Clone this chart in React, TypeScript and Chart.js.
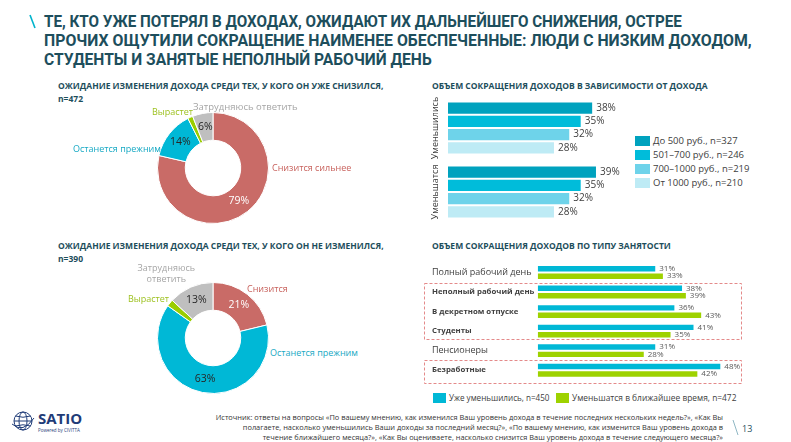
import React, { useEffect, useLayoutEffect, useRef } from "react";
import { Chart, registerables } from "chart.js";

Chart.register(...registerables);

// ---------- DATA ----------
const titleLines = [
  "ТЕ, КТО УЖЕ ПОТЕРЯЛ В ДОХОДАХ, ОЖИДАЮТ ИХ ДАЛЬНЕЙШЕГО СНИЖЕНИЯ, ОСТРЕЕ",
  "ПРОЧИХ ОЩУТИЛИ СОКРАЩЕНИЕ НАИМЕНЕЕ ОБЕСПЕЧЕННЫЕ: ЛЮДИ С НИЗКИМ ДОХОДОМ,",
  "СТУДЕНТЫ И ЗАНЯТЫЕ НЕПОЛНЫЙ РАБОЧИЙ ДЕНЬ",
];
const titleLineWidths = [638, 708, 388];

const donut1Title = "ОЖИДАНИЕ ИЗМЕНЕНИЯ ДОХОДА СРЕДИ ТЕХ, У КОГО ОН УЖЕ СНИЗИЛСЯ,";
const donut1N = "n=472";
const donut1Labels = ["Снизится сильнее", "Останется прежним", "Вырастет", "Затрудняюсь ответить"];
const donut1Values = [79, 14, 1.5, 6];

const donut2Title = "ОЖИДАНИЕ ИЗМЕНЕНИЯ ДОХОДА СРЕДИ ТЕХ, У КОГО ОН НЕ ИЗМЕНИЛСЯ,";
const donut2N = "n=390";
const donut2Labels = ["Снизится", "Останется прежним", "Вырастет", "Затрудняюсь ответить"];
const donut2Values = [21, 63, 2, 13];

const donutColors = ["#C96B67", "#00B8D6", "#9ACD00", "#BFBFBF"];
const donutTextColors = ["#C8625D", "#17A9C4", "#9DC11F", "#A6A6A6"];
const donutPctColors = ["#FFFFFF", "#262626", "#262626", "#262626"];

const incomeTitle = "ОБЪЕМ СОКРАЩЕНИЯ ДОХОДОВ В ЗАВИСИМОСТИ ОТ ДОХОДА";
const incomeCategories = ["Уменьшились", "Уменьшатся"];
const incomeSeries = ["До 500 руб., n=327", "501–700 руб., n=246", "700–1000 руб., n=219", "От 1000 руб., n=210"];
const incomeUnder500 = [38, 39];
const income501to700 = [35, 35];
const income700to1000 = [32, 32];
const incomeOver1000 = [28, 28];
const incomeColors = ["#00A2BE", "#00BCDA", "#6ED3EA", "#BEEBF5"];

const jobTitle = "ОБЪЕМ СОКРАЩЕНИЯ ДОХОДОВ ПО ТИПУ ЗАНЯТОСТИ";
const jobCategories = [
  "Полный рабочий день",
  "Неполный рабочий день",
  "В декретном отпуске",
  "Студенты",
  "Пенсионеры",
  "Безработные",
];
const jobBold = [false, true, true, true, false, true];
const jobAlready = [31, 38, 36, 41, 31, 48];
const jobExpected = [33, 39, 43, 35, 28, 42];
const jobSeries = ["Уже уменьшились, n=450", "Уменьшатся в ближайшее время, n=472"];
const jobColors = ["#00B8D6", "#9ED200"];

const sourceLines = [
  "Источник: ответы на вопросы «По вашему мнению, как изменился Ваш уровень дохода в течение последних нескольких недель?», «Как Вы",
  "полагаете, насколько уменьшились Ваши доходы за последний месяц?», «По вашему мнению, как изменится Ваш уровень дохода в",
  "течение ближайшего месяца?», «Как Вы оцениваете, насколько снизится Ваш уровень дохода в течение следующего месяца?»",
];
const pageNumber = "13";

// ---------- STYLE ----------
const FONT = "'Open Sans', 'Noto Sans', sans-serif";
const TITLE_FONT = "Roboto, 'Open Sans', sans-serif";
const DARK = "#1D4E5C";
const TEXT = "#404040";

function makeDonut(canvas: HTMLCanvasElement, labels: string[], values: number[]) {
  return new Chart(canvas, {
    type: "doughnut",
    data: {
      labels,
      datasets: [
        {
          data: values,
          backgroundColor: donutColors,
          borderColor: "#ffffff",
          borderWidth: 1,
        },
      ],
    },
    options: {
      responsive: false,
      animation: false,
      cutout: "50%",
      layout: { padding: 0 },
      plugins: { legend: { display: false }, tooltip: { enabled: false } },
    },
    plugins: [
      {
        id: "pctLabels",
        afterDatasetsDraw(chart: any) {
          const ctx = chart.ctx;
          const meta = chart.getDatasetMeta(0);
          ctx.save();
          ctx.font = `10.5px ${FONT}`;
          ctx.textAlign = "center";
          ctx.textBaseline = "middle";
          meta.data.forEach((arc: any, i: number) => {
            if (values[i] < 3) return;
            const p = arc.tooltipPosition(false);
            ctx.fillStyle = donutPctColors[i];
            ctx.fillText(`${values[i]}%`, p.x, p.y);
          });
          ctx.restore();
        },
      },
    ],
  } as any);
}

function makeIncome(canvas: HTMLCanvasElement) {
  const series = [incomeUnder500, income501to700, income700to1000, incomeOver1000];
  return new Chart(canvas, {
    type: "bar",
    data: {
      labels: incomeCategories,
      datasets: series.map((d, i) => ({
        label: incomeSeries[i],
        data: d,
        backgroundColor: incomeColors[i],
        borderColor: "#ffffff",
        borderWidth: 1,
        borderSkipped: "start",
        barPercentage: 1,
        categoryPercentage: 0.83,
      })),
    },
    options: {
      indexAxis: "y",
      responsive: false,
      animation: false,
      layout: { padding: { left: 28, right: 0, top: 0, bottom: 0 } },
      scales: {
        x: { display: false, min: 0, max: 182 / 3.82 },
        y: { display: false },
      },
      plugins: { legend: { display: false }, tooltip: { enabled: false } },
    },
    plugins: [
      {
        id: "incomeLabels",
        afterDatasetsDraw(chart: any) {
          const ctx = chart.ctx;
          ctx.save();
          ctx.fillStyle = TEXT;
          ctx.font = `10px ${FONT}`;
          ctx.textBaseline = "middle";
          ctx.textAlign = "left";
          chart.data.datasets.forEach((ds: any, di: number) => {
            const meta = chart.getDatasetMeta(di);
            meta.data.forEach((bar: any, i: number) => {
              ctx.fillText(`${ds.data[i]}%`, bar.x + 3, bar.y);
            });
          });
          const ys = chart.scales.y;
          ctx.textAlign = "center";
          ctx.font = `9px ${FONT}`;
          incomeCategories.forEach((c, i) => {
            const y = ys.getPixelForValue(i);
            ctx.save();
            ctx.translate(15, y);
            ctx.rotate(-Math.PI / 2);
            ctx.fillText(c, 0, 0);
            ctx.restore();
          });
          ctx.restore();
        },
      },
    ],
  } as any);
}

function makeJobs(canvas: HTMLCanvasElement) {
  const series = [jobAlready, jobExpected];
  return new Chart(canvas, {
    type: "bar",
    data: {
      labels: jobCategories,
      datasets: series.map((d, i) => ({
        label: jobSeries[i],
        data: d,
        backgroundColor: jobColors[i],
        borderColor: "#ffffff",
        borderWidth: 1,
        borderSkipped: "start",
        barPercentage: 1,
        categoryPercentage: 0.76,
      })),
    },
    options: {
      indexAxis: "y",
      responsive: false,
      animation: false,
      layout: { padding: { left: 12, right: 0, top: 0, bottom: 6 } },
      scales: {
        x: { display: false, min: 0, max: 212 / 3.82 },
        y: {
          position: "left",
          grid: { display: false },
          border: { display: false },
          ticks: {
            crossAlign: "far",
            padding: 0,
            color: TEXT,
            font: (c: any) =>
              jobBold[c.index]
                ? { family: FONT, size: 7.8, weight: "bold" }
                : { family: FONT, size: 9, weight: "normal" },
          },
          afterFit: (s: any) => {
            s.width = 105.6;
          },
        },
      },
      plugins: { legend: { display: false }, tooltip: { enabled: false } },
    },
    plugins: [
      {
        id: "boxes",
        beforeDatasetsDraw(chart: any) {
          const ctx = chart.ctx;
          const ys = chart.scales.y;
          ctx.save();
          ctx.strokeStyle = "#E48A8A";
          ctx.lineWidth = 1;
          ctx.setLineDash([3, 2]);
          const r1t = ys.getPixelForValue(1) - 9;
          const r1b = ys.getPixelForValue(3) + 8;
          const r2t = ys.getPixelForValue(5) - 10.5;
          const r2b = ys.getPixelForValue(5) + 12.5;
          ctx.strokeRect(4.5, Math.round(r1t) + 0.5, 317, Math.round(r1b - r1t));
          ctx.strokeRect(4.5, Math.round(r2t) + 0.5, 317, Math.round(r2b - r2t));
          ctx.restore();
        },
      },
      {
        id: "jobLabels",
        afterDatasetsDraw(chart: any) {
          const ctx = chart.ctx;
          ctx.save();
          ctx.fillStyle = "#595959";
          ctx.font = `8px ${FONT}`;
          ctx.textBaseline = "middle";
          ctx.textAlign = "left";
          chart.data.datasets.forEach((ds: any, di: number) => {
            const meta = chart.getDatasetMeta(di);
            meta.data.forEach((bar: any, i: number) => {
              ctx.fillText(`${ds.data[i]}%`, bar.x + 3, bar.y);
            });
          });
          ctx.restore();
        },
      },
    ],
  } as any);
}

const abs = (x: number, y: number, extra: React.CSSProperties = {}): React.CSSProperties => ({
  position: "absolute",
  left: x,
  top: y,
  transform: "translateY(-50%)",
  whiteSpace: "nowrap",
  lineHeight: 1,
  fontFamily: FONT,
  ...extra,
});

function FitText({ x, y, width, style, children }: { x: number; y: number; width: number; style: React.CSSProperties; children: any }) {
  const ref = useRef<HTMLDivElement>(null);
  useLayoutEffect(() => {
    const el = ref.current;
    if (!el) return;
    const w = el.offsetWidth;
    if (w > 0) el.style.transform = `translateY(-50%) scaleX(${width / w})`;
  }, [width]);
  return (
    <div ref={ref} style={{ ...abs(x, y, style), display: "inline-block", transformOrigin: "left center" }}>
      {children}
    </div>
  );
}

export default function App() {
  const d1 = useRef<HTMLCanvasElement>(null);
  const d2 = useRef<HTMLCanvasElement>(null);
  const inc = useRef<HTMLCanvasElement>(null);
  const job = useRef<HTMLCanvasElement>(null);

  useEffect(() => {
    const charts = [
      makeDonut(d1.current!, donut1Labels, donut1Values),
      makeDonut(d2.current!, donut2Labels, donut2Values),
      makeIncome(inc.current!),
      makeJobs(job.current!),
    ];
    return () => charts.forEach((c) => c.destroy());
  }, []);

  const subStyle: React.CSSProperties = { fontSize: 8.5, fontWeight: 700, color: DARK };
  const lbl = (c: string): React.CSSProperties => ({ fontSize: 9, color: c });

  return (
    <div style={{ position: "fixed", left: 0, top: 0, width: 791, height: 442, background: "#fff", overflow: "hidden", fontFamily: FONT }}>
      {/* title */}
      <svg style={{ position: "absolute", left: 28, top: 14 }} width={10} height={16}>
        <line x1={2} y1={1} x2={7} y2={14} stroke="#00B3CC" strokeWidth={1.6} />
      </svg>
      {titleLines.map((t, i) => (
        <FitText key={i} x={44} y={22 + i * 19} width={titleLineWidths[i]} style={{ fontFamily: TITLE_FONT, fontWeight: 700, fontSize: 16.5, color: DARK }}>
          {t}
        </FitText>
      ))}

      {/* donut 1 */}
      <div style={abs(58, 86, subStyle)}>{donut1Title}</div>
      <div style={abs(58, 99, subStyle)}>{donut1N}</div>
      <canvas ref={d1} width={112} height={112} style={{ position: "absolute", left: 157, top: 112 }} />
      <div style={abs(193, 107, { fontSize: 9.5, color: donutTextColors[3] })}>{donut1Labels[3]}</div>
      <div style={abs(152, 111, lbl(donutTextColors[2]))}>{donut1Labels[2]}</div>
      <div style={abs(73, 148, lbl(donutTextColors[1]))}>{donut1Labels[1]}</div>
      <div style={abs(272, 167, lbl(donutTextColors[0]))}>{donut1Labels[0]}</div>

      {/* donut 2 */}
      <div style={abs(58, 246, subStyle)}>{donut2Title}</div>
      <div style={abs(58, 259, subStyle)}>{donut2N}</div>
      <canvas ref={d2} width={112} height={112} style={{ position: "absolute", left: 157, top: 282 }} />
      <div
        style={{
          position: "absolute",
          right: 791 - 195,
          top: 263,
          textAlign: "center",
          fontSize: 9,
          lineHeight: "10.5px",
          color: donutTextColors[3],
          fontFamily: FONT,
          whiteSpace: "nowrap",
        }}
      >
        Затрудняюсь
        <br />
        ответить
      </div>
      <div style={abs(128, 298, lbl(donutTextColors[2]))}>{donut2Labels[2]}</div>
      <div style={abs(247, 288, lbl(donutTextColors[0]))}>{donut2Labels[0]}</div>
      <div style={abs(270, 352, lbl(donutTextColors[1]))}>{donut2Labels[1]}</div>

      {/* income chart */}
      <div style={abs(432, 86, subStyle)}>{incomeTitle}</div>
      <canvas ref={inc} width={210} height={128} style={{ position: "absolute", left: 420, top: 96 }} />
      {incomeSeries.map((s, i) => (
        <React.Fragment key={i}>
          <div style={{ position: "absolute", left: 635, top: 136 + i * 14, width: 15, height: 10, background: incomeColors[i] }} />
          <div style={abs(653, 141 + i * 14, { fontSize: 9.5, color: TEXT })}>{s}</div>
        </React.Fragment>
      ))}

      {/* job chart */}
      <div style={abs(432, 246, subStyle)}>{jobTitle}</div>
      <canvas ref={job} width={330} height={128} style={{ position: "absolute", left: 420, top: 258 }} />
      <div style={{ position: "absolute", left: 433, top: 393, width: 13, height: 10, background: jobColors[0] }} />
      <div style={abs(449, 398, { fontSize: 8.1, color: TEXT })}>{jobSeries[0]}</div>
      <div style={{ position: "absolute", left: 556, top: 393, width: 13, height: 10, background: jobColors[1] }} />
      <div style={abs(572, 398, { fontSize: 8.4, color: TEXT })}>{jobSeries[1]}</div>

      {/* footer */}
      <svg style={{ position: "absolute", left: 11, top: 410 }} width={24} height={22}>
        <g fill="none" stroke="#1F3C78" strokeWidth={1}>
          <circle cx={12} cy={11} r={9} />
          <ellipse cx={12} cy={11} rx={4} ry={9} />
          <line x1={3} y1={11} x2={21} y2={11} />
          <path d="M4.5 6 Q12 8.5 19.5 6" />
          <path d="M4.5 16 Q12 13.5 19.5 16" />
          <path d="M1 14 Q12 24 23 8" />
        </g>
      </svg>
      <div style={abs(38, 418, { fontSize: 15, fontWeight: 700, color: "#1F3C78" })}>SATIO</div>
      <div style={abs(38, 430, { fontSize: 4.5, color: "#1F3C78" })}>Powered by CIVITTA</div>

      <div
        style={{
          position: "absolute",
          right: 791 - 723,
          top: 412,
          textAlign: "right",
          fontSize: 7.4,
          lineHeight: "10px",
          color: "#333",
          fontFamily: FONT,
          whiteSpace: "nowrap",
        }}
      >
        {sourceLines.map((l, i) => (
          <div key={i}>{l}</div>
        ))}
      </div>
      <svg style={{ position: "absolute", left: 731, top: 419 }} width={10} height={18}>
        <line x1={2} y1={1} x2={7} y2={16} stroke="#8FB7C4" strokeWidth={1} />
      </svg>
      <div style={abs(742, 428, { fontSize: 9, color: DARK })}>{pageNumber}</div>
    </div>
  );
}
